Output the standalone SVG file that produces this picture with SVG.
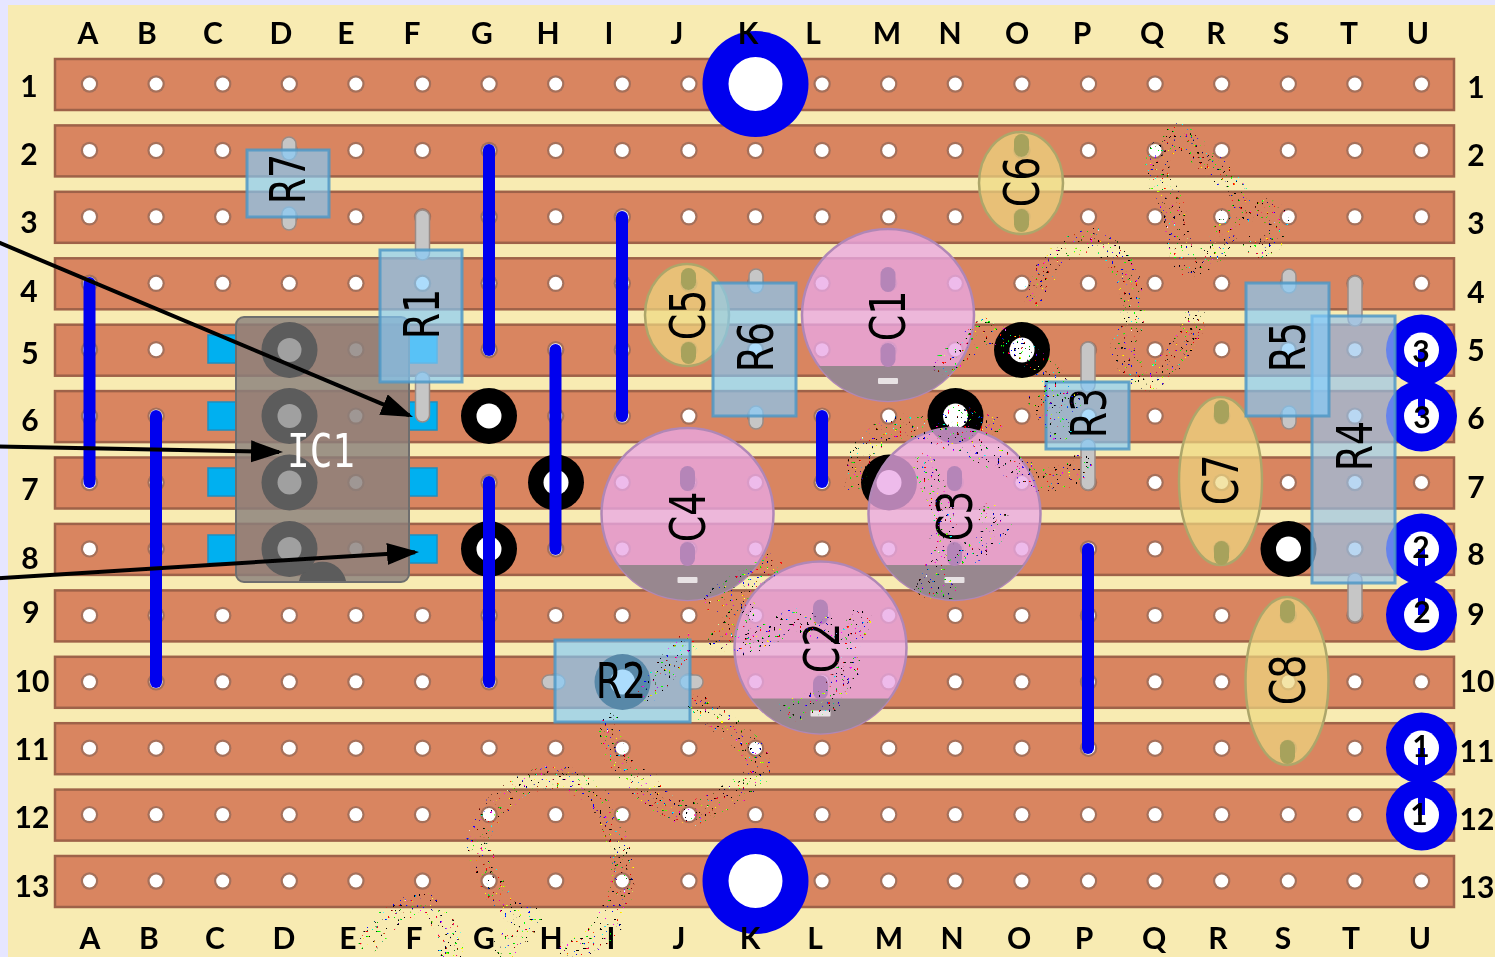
<svg xmlns="http://www.w3.org/2000/svg" xmlns:xlink="http://www.w3.org/1999/xlink" width="1495" height="957" viewBox="0 0 1495 957">
<style>
.hd{font-family:"Lato","Carlito","Liberation Sans",sans-serif;font-weight:700;font-size:30px;fill:#000;text-anchor:middle}
.cl{font-family:"DejaVu Sans",sans-serif;font-size:50px;fill:#000;text-anchor:middle}
.strip{fill:#D98560;stroke:#9E6248;stroke-width:2.5}
.res{fill:rgb(131,203,251);fill-opacity:.67;stroke:#4F98C6;stroke-opacity:.85;stroke-width:3}
.res4{fill:rgb(150,195,235);fill-opacity:.67;stroke:#4F98C6;stroke-opacity:.85;stroke-width:3}
.lead{fill:#C6C6C6;stroke:#9A8C86;stroke-width:1.5}
.film{fill:rgb(238,217,130);fill-opacity:.7;stroke:#ADA66B;stroke-width:2.5}
.fpin{fill:#A7A25C}
.pad{fill:#00B0F0;stroke:#1C8FC0;stroke-width:1.5}
.wire{stroke:#0000EE;stroke-width:12;stroke-linecap:round;fill:none}
.arrow{stroke:#000;stroke-width:4;fill:none;marker-end:url(#ah)}
.link{stroke:#0000EE;stroke-width:7;fill:none}
.sp{fill:none;stroke:#000;stroke-width:24;stroke-linecap:round;stroke-linejoin:round}
</style>
<defs>
<marker id="ah" markerUnits="userSpaceOnUse" markerWidth="34" markerHeight="24" refX="28" refY="11" orient="auto"><path d="M0,0L32,11L0,22Z" fill="#000"/></marker>
<filter id="soft" x="0" y="0" width="1495" height="957" filterUnits="userSpaceOnUse"><feGaussianBlur stdDeviation="0.6"/></filter>
<filter id="speck" x="0" y="0" width="1495" height="957" filterUnits="userSpaceOnUse" color-interpolation-filters="sRGB">
<feTurbulence type="fractalNoise" baseFrequency="0.42" numOctaves="1" seed="7" result="n"/>
<feColorMatrix in="n" type="matrix" values="9 0 0 0 -4.6 0 9 0 0 -4.6 0 0 9 0 -4.6 0 0 0 40 -26.6" result="d"/>
<feComposite in="d" in2="SourceGraphic" operator="in"/>
</filter>
<g id="h"><circle r="8.7" fill="#A5705A"/><circle r="6.5" fill="#fff"/></g>
<g id="hrow"><use xlink:href="#h" x="89.5"/><use xlink:href="#h" x="156.1"/><use xlink:href="#h" x="222.7"/><use xlink:href="#h" x="289.3"/><use xlink:href="#h" x="355.9"/><use xlink:href="#h" x="422.5"/><use xlink:href="#h" x="489.1"/><use xlink:href="#h" x="555.7"/><use xlink:href="#h" x="622.3"/><use xlink:href="#h" x="688.9"/><use xlink:href="#h" x="755.5"/><use xlink:href="#h" x="822.1"/><use xlink:href="#h" x="888.7"/><use xlink:href="#h" x="955.3"/><use xlink:href="#h" x="1021.9"/><use xlink:href="#h" x="1088.5"/><use xlink:href="#h" x="1155.1"/><use xlink:href="#h" x="1221.7"/><use xlink:href="#h" x="1288.3"/><use xlink:href="#h" x="1354.9"/><use xlink:href="#h" x="1421.5"/></g>
<rect id="s" class="strip" x="55" y="-25" width="1399" height="51"/>
<g id="cut"><circle r="28" fill="#000"/><circle r="12.5" fill="#fff"/></g>
<g id="upad"><circle r="35.5" fill="#0000EE"/><circle r="17.5" fill="#fff"/></g>
<g id="ecap">
<circle r="86" fill="rgb(233,168,229)" fill-opacity=".78" stroke="#B087B6" stroke-width="2.5"/>
<path d="M-69.2,51A86,86 0 0 0 69.2,51Z" fill="#98878F"/>
<rect x="-7.5" y="-48" width="15" height="25" rx="7.5" fill="#B585B8"/>
<rect x="-7.5" y="28" width="15" height="24" rx="7.5" fill="#B585B8"/>
<rect x="-10" y="63" width="20" height="6" rx="1" fill="#E8E2E4"/>
</g>
<rect id="cp" class="pad" x="-14" y="-14" width="28" height="28"/>
</defs>

<g id="board" filter="url(#soft)">
<rect width="1495" height="957" fill="#E6E6FF"/>
<rect x="8" y="5" width="1487" height="952" fill="#F8EBB2"/>
<g id="strips">
<use xlink:href="#s" y="84"/><use xlink:href="#s" y="150.4"/><use xlink:href="#s" y="216.8"/><use xlink:href="#s" y="283.3"/><use xlink:href="#s" y="349.7"/><use xlink:href="#s" y="416.1"/><use xlink:href="#s" y="482.5"/><use xlink:href="#s" y="548.9"/><use xlink:href="#s" y="615.4"/><use xlink:href="#s" y="681.8"/><use xlink:href="#s" y="748.2"/><use xlink:href="#s" y="814.6"/><use xlink:href="#s" y="881"/>
</g>
<g id="holes">
<use xlink:href="#hrow" y="84"/><use xlink:href="#hrow" y="150.4"/><use xlink:href="#hrow" y="216.8"/><use xlink:href="#hrow" y="283.3"/><use xlink:href="#hrow" y="349.7"/><use xlink:href="#hrow" y="416.1"/><use xlink:href="#hrow" y="482.5"/><use xlink:href="#hrow" y="548.9"/><use xlink:href="#hrow" y="615.4"/><use xlink:href="#hrow" y="681.8"/><use xlink:href="#hrow" y="748.2"/><use xlink:href="#hrow" y="814.6"/><use xlink:href="#hrow" y="881"/>
</g>
<g id="col-labels">
<text class="hd" x="88" y="44">A</text><text class="hd" x="147" y="44">B</text><text class="hd" x="213" y="44">C</text><text class="hd" x="281" y="44">D</text><text class="hd" x="346" y="44">E</text><text class="hd" x="412" y="44">F</text><text class="hd" x="482" y="44">G</text><text class="hd" x="548" y="44">H</text><text class="hd" x="609" y="44">I</text><text class="hd" x="677" y="44">J</text><text class="hd" x="813" y="44">L</text><text class="hd" x="887" y="44">M</text><text class="hd" x="950" y="44">N</text><text class="hd" x="1017" y="44">O</text><text class="hd" x="1082" y="44">P</text><text class="hd" x="1152" y="44">Q</text><text class="hd" x="1216" y="44">R</text><text class="hd" x="1281" y="44">S</text><text class="hd" x="1349" y="44">T</text><text class="hd" x="1418" y="44">U</text>
<text class="hd" x="90" y="949">A</text><text class="hd" x="149" y="949">B</text><text class="hd" x="215" y="949">C</text><text class="hd" x="284" y="949">D</text><text class="hd" x="348" y="949">E</text><text class="hd" x="414" y="949">F</text><text class="hd" x="484" y="949">G</text><text class="hd" x="551" y="949">H</text><text class="hd" x="611" y="949">I</text><text class="hd" x="679" y="949">J</text><text class="hd" x="815" y="949">L</text><text class="hd" x="889" y="949">M</text><text class="hd" x="952" y="949">N</text><text class="hd" x="1019" y="949">O</text><text class="hd" x="1084" y="949">P</text><text class="hd" x="1154" y="949">Q</text><text class="hd" x="1218" y="949">R</text><text class="hd" x="1283" y="949">S</text><text class="hd" x="1351" y="949">T</text><text class="hd" x="1420" y="949">U</text>
</g>
<g id="row-labels">
<text class="hd" x="29" y="97">1</text><text class="hd" x="29" y="165">2</text><text class="hd" x="29" y="233">3</text><text class="hd" x="29" y="302">4</text><text class="hd" x="30" y="364">5</text><text class="hd" x="30" y="431">6</text><text class="hd" x="30" y="500">7</text><text class="hd" x="30" y="569">8</text><text class="hd" x="31" y="623">9</text><text class="hd" x="32" y="692">10</text><text class="hd" x="32" y="760">11</text><text class="hd" x="32" y="828">12</text><text class="hd" x="32" y="897">13</text>
<text class="hd" x="1476" y="98">1</text><text class="hd" x="1476" y="166">2</text><text class="hd" x="1476" y="234">3</text><text class="hd" x="1476" y="303">4</text><text class="hd" x="1476" y="361">5</text><text class="hd" x="1476" y="429">6</text><text class="hd" x="1476" y="498">7</text><text class="hd" x="1476" y="565">8</text><text class="hd" x="1476" y="625">9</text><text class="hd" x="1477" y="692">10</text><text class="hd" x="1477" y="762">11</text><text class="hd" x="1477" y="830">12</text><text class="hd" x="1477" y="898">13</text>
</g>
<g id="track-cuts">
<use xlink:href="#cut" x="489" y="416"/><use xlink:href="#cut" x="489" y="549"/><use xlink:href="#cut" x="556" y="482.5"/><use xlink:href="#cut" x="1022" y="350"/><use xlink:href="#cut" x="955.5" y="416"/><use xlink:href="#cut" x="889" y="482.5"/><use xlink:href="#cut" x="1288.5" y="549"/><use xlink:href="#cut" x="622.5" y="682"/>
</g>
<g id="MT1"><circle cx="755.5" cy="84" r="53" fill="#0000EE"/><circle cx="755.5" cy="84" r="27" fill="#fff"/></g>
<g id="MT2"><circle cx="755.5" cy="881" r="53" fill="#0000EE"/><circle cx="755.5" cy="881" r="27" fill="#fff"/></g>
<text class="hd" x="748" y="44">K</text><text class="hd" x="750" y="949">K</text>
<g id="P3"><use xlink:href="#upad" x="1421.5" y="350"/><use xlink:href="#upad" x="1421.5" y="416"/><path class="link" d="M1421.5,350V416"/><text class="hd" x="1421" y="362">3</text><text class="hd" x="1422" y="428">3</text></g>
<g id="P2"><use xlink:href="#upad" x="1421.5" y="549"/><use xlink:href="#upad" x="1421.5" y="615"/><path class="link" d="M1421.5,549V615"/><text class="hd" x="1421" y="558">2</text><text class="hd" x="1422" y="623">2</text></g>
<g id="P1"><use xlink:href="#upad" x="1421.5" y="748"/><use xlink:href="#upad" x="1421.5" y="815"/><path class="link" d="M1421.5,748V815"/><text class="hd" x="1421" y="757">1</text><text class="hd" x="1419" y="825">1</text></g>

<g id="IC1">
<use xlink:href="#cp" x="222" y="349"/><use xlink:href="#cp" x="222" y="416"/><use xlink:href="#cp" x="222" y="482"/><use xlink:href="#cp" x="222" y="549"/>
<use xlink:href="#cp" x="423" y="349"/><use xlink:href="#cp" x="423" y="416"/><use xlink:href="#cp" x="423" y="482"/><use xlink:href="#cp" x="423" y="549"/>
<rect x="236" y="317" width="173" height="265" rx="8" fill="rgb(138,128,125)" fill-opacity=".82" stroke="#6E6E6E" stroke-width="2"/>
<path d="M299,581A24,24 0 0 1 346,581Z" fill="#5B5B5B"/>
<g fill="#5B5B5B"><circle cx="289.5" cy="350" r="28"/><circle cx="289.5" cy="416" r="28"/><circle cx="289.5" cy="482.5" r="28"/><circle cx="289.5" cy="549" r="28"/></g>
<g fill="#A0A0A0"><circle cx="289.5" cy="350" r="12"/><circle cx="289.5" cy="416" r="12"/><circle cx="289.5" cy="482.5" r="12"/><circle cx="289.5" cy="549" r="12"/></g>
<text transform="translate(321,467) scale(.82,1)" font-family="'DejaVu Sans Mono',monospace" font-size="46" fill="#fff" text-anchor="middle">IC1</text>
</g>

<g id="R7"><rect class="lead" x="282" y="137" width="14" height="23" rx="7"/><rect class="lead" x="282" y="207" width="14" height="23" rx="7"/><rect class="res" x="247" y="150" width="82" height="67"/><text class="cl" transform="translate(305,179) rotate(-90) scale(.76,1)">R7</text></g>
<g id="R1"><rect class="lead" x="415.5" y="210" width="14" height="50" rx="7"/><rect class="lead" x="415.5" y="372" width="14" height="50" rx="7"/><rect class="res" x="380" y="250" width="82" height="132"/><text class="cl" transform="translate(439,314) rotate(-90) scale(.76,1)">R1</text></g>
<g id="C5"><ellipse class="film" cx="687" cy="315" rx="42" ry="51"/><rect class="fpin" x="681" y="268" width="15" height="22" rx="7.5"/><rect class="fpin" x="681" y="342" width="15" height="22" rx="7.5"/><text class="cl" transform="translate(705,315) rotate(-90) scale(.76,1)">C5</text></g>
<g id="R6"><rect class="lead" x="749" y="269" width="14" height="24" rx="7"/><rect class="lead" x="749" y="406" width="14" height="23" rx="7"/><rect class="res" x="713" y="283" width="83" height="133"/><text class="cl" transform="translate(773,347) rotate(-90) scale(.76,1)">R6</text></g>
<g id="R3"><rect class="lead" x="1081" y="342" width="14" height="50" rx="7"/><rect class="lead" x="1081" y="439" width="14" height="51" rx="7"/><rect class="res" x="1046" y="382" width="83" height="67"/><text class="cl" transform="translate(1106,413) rotate(-90) scale(.76,1)">R3</text></g>
<g id="R2"><rect class="lead" x="542" y="675" width="23" height="14" rx="7"/><rect class="lead" x="680" y="675" width="23" height="14" rx="7"/><rect class="res" x="555" y="640" width="135" height="82"/><text class="cl" transform="translate(621,698) scale(.76,1)">R2</text></g>

<g id="C6"><ellipse class="film" cx="1021" cy="183" rx="42" ry="51"/><rect class="fpin" x="1014" y="134" width="15" height="23" rx="7.5"/><rect class="fpin" x="1014" y="209" width="15" height="23" rx="7.5"/><text class="cl" transform="translate(1039,182) rotate(-90) scale(.76,1)">C6</text></g>
<g id="C7"><ellipse class="film" cx="1220.5" cy="481" rx="41.5" ry="84"/><rect class="fpin" x="1214" y="400" width="15" height="24" rx="7.5"/><rect class="fpin" x="1214" y="541" width="15" height="24" rx="7.5"/><text class="cl" transform="translate(1238,480) rotate(-90) scale(.76,1)">C7</text></g>
<g id="C8"><ellipse class="film" cx="1287" cy="681" rx="41.5" ry="84"/><rect class="fpin" x="1280" y="600" width="15" height="23" rx="7.5"/><rect class="fpin" x="1280" y="740" width="15" height="24" rx="7.5"/><text class="cl" transform="translate(1305,680) rotate(-90) scale(.76,1)">C8</text></g>
<g id="R4"><rect class="lead" x="1348" y="276" width="14" height="50" rx="7"/><rect class="lead" x="1348" y="573" width="14" height="49" rx="7"/><rect class="res4" x="1312" y="316" width="83" height="267"/><text class="cl" transform="translate(1372,446) rotate(-90) scale(.76,1)">R4</text></g>
<g id="R5"><rect class="lead" x="1282" y="269" width="14" height="24" rx="7"/><rect class="lead" x="1282" y="406" width="14" height="23" rx="7"/><rect class="res" x="1246" y="283" width="83" height="133"/><text class="cl" transform="translate(1305,347) rotate(-90) scale(.76,1)">R5</text></g>

<g id="C1"><use xlink:href="#ecap" x="888" y="315"/><text class="cl" transform="translate(905,316) rotate(-90) scale(.76,1)">C1</text></g>
<g id="C4"><use xlink:href="#ecap" x="687.5" y="514"/><text class="cl" transform="translate(705,517) rotate(-90) scale(.76,1)">C4</text></g>
<g id="C3"><use xlink:href="#ecap" x="954.5" y="514"/><text class="cl" transform="translate(972,516) rotate(-90) scale(.76,1)">C3</text></g>
<g id="C2"><use xlink:href="#ecap" x="820.5" y="647.5"/><text class="cl" transform="translate(839,648) rotate(-90) scale(.76,1)">C2</text></g>

<g id="connectors">
<path class="wire" d="M89.5,283V482"/><path class="wire" d="M156,416V682"/><path class="wire" d="M489,150V350"/><path class="wire" d="M489,482V682"/><path class="wire" d="M555.5,350V549"/><path class="wire" d="M622,217V416"/><path class="wire" d="M822,416V482"/><path class="wire" d="M1088,549V748"/>
<path class="arrow" d="M-2,242.2L409.3,415.4"/>
<path class="arrow" d="M-2,446.5L279,451.9"/>
<path class="arrow" d="M-2,578.2L415,552.2"/>
</g>
</g>

<g id="speckle" filter="url(#speck)">
<path class="sp" d="M1180,135C1150,150 1155,180 1165,190C1180,215 1175,240 1185,265C1210,265 1215,250 1225,235C1225,205 1260,205 1275,215C1285,235 1265,250 1255,245"/>
<path class="sp" d="M1180,135C1200,155 1220,170 1235,190"/>
<path class="sp" d="M1035,295C1045,265 1070,240 1095,240C1125,255 1140,295 1130,330C1115,345 1125,365 1145,380C1165,375 1185,345 1195,320"/>
<path class="sp" d="M945,365L985,330L1022,350L1060,385L1070,400M955,416L990,425M1040,400L1060,430"/>
<path class="sp" d="M855,480C855,445 885,425 915,425C960,440 1000,460 1040,480C1060,480 1075,475 1080,465"/>
<path class="sp" d="M925,465L945,520L935,580M990,515C1015,525 985,545 965,555M945,590L925,585"/>
<path class="sp" d="M715,600L770,565M720,640L745,610"/>
<path class="sp" d="M745,645L795,620L830,630M850,640L860,620M850,665L830,700L790,710"/>
<path class="sp" d="M650,690L685,645M610,725C605,745 620,770 650,785"/>
<path class="sp" d="M700,705C725,730 750,735 760,765C760,785 720,800 690,815C670,810 650,795 640,785"/>
<path class="sp" d="M478,835C490,805 520,780 560,776C600,790 610,810 615,840C630,870 625,900 600,930"/>
<path class="sp" d="M478,850C495,880 490,905 530,918C520,940 500,945 505,950"/>
<path class="sp" d="M370,940C385,920 400,905 425,905C445,925 455,940 450,952M570,952C590,945 600,935 610,925"/>
</g>
</svg>
